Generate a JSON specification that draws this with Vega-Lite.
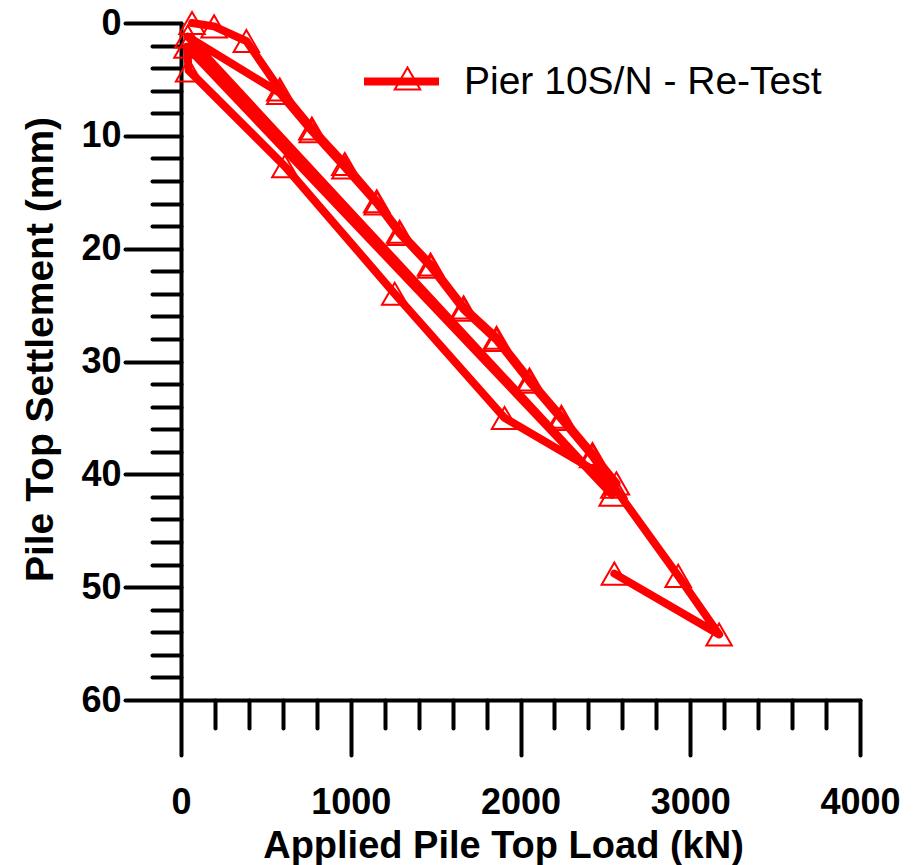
{
  "$schema": "https://vega.github.io/schema/vega-lite/v6.json",
  "width": 679,
  "height": 677,
  "autosize": {"type": "none"},
  "padding": {"left": 181, "top": 23, "right": 58, "bottom": 165},
  "background": "white",
  "config": {
    "view": {"stroke": null},
    "font": "Liberation Sans"
  },
  "data": {
    "values": [
      {"i": 1, "load": 65, "settle": 0.0},
      {"i": 2, "load": 195, "settle": 0.3},
      {"i": 3, "load": 385, "settle": 1.6},
      {"i": 4, "load": 582, "settle": 5.9},
      {"i": 5, "load": 771, "settle": 9.35},
      {"i": 6, "load": 965, "settle": 12.5},
      {"i": 7, "load": 1153, "settle": 15.8},
      {"i": 8, "load": 1288, "settle": 18.5},
      {"i": 9, "load": 1470, "settle": 21.4},
      {"i": 10, "load": 1665, "settle": 25.2},
      {"i": 11, "load": 1859, "settle": 27.9},
      {"i": 12, "load": 2053, "settle": 31.6},
      {"i": 13, "load": 2241, "settle": 34.9},
      {"i": 14, "load": 2424, "settle": 38.2},
      {"i": 15, "load": 2565, "settle": 40.8},
      {"i": 16, "load": 1906, "settle": 35.0},
      {"i": 17, "load": 1259, "settle": 24.0},
      {"i": 18, "load": 612, "settle": 12.7},
      {"i": 19, "load": 45, "settle": 4.2},
      {"i": 20, "load": 35, "settle": 2.1},
      {"i": 21, "load": 2540, "settle": 41.8},
      {"i": 22, "load": 40, "settle": 1.2},
      {"i": 23, "load": 582, "settle": 6.2},
      {"i": 24, "load": 773, "settle": 9.6},
      {"i": 25, "load": 966, "settle": 12.8},
      {"i": 26, "load": 1156, "settle": 16.0},
      {"i": 27, "load": 1291, "settle": 18.7},
      {"i": 28, "load": 1472, "settle": 21.6},
      {"i": 29, "load": 1666, "settle": 25.4},
      {"i": 30, "load": 1860, "settle": 28.1},
      {"i": 31, "load": 2054, "settle": 31.8},
      {"i": 32, "load": 2242, "settle": 35.1},
      {"i": 33, "load": 2425, "settle": 38.4},
      {"i": 34, "load": 2550, "settle": 41.1},
      {"i": 35, "load": 2929, "settle": 49.0},
      {"i": 36, "load": 3170, "settle": 54.2},
      {"i": 37, "load": 2553, "settle": 48.8}
    ]
  },
  "encoding": {
    "x": {
      "field": "load",
      "type": "quantitative",
      "scale": {"domain": [0, 4000], "nice": false, "zero": false},
      "axis": {
        "title": "Applied Pile Top Load (kN)",
        "values": [0, 200, 400, 600, 800, 1000, 1200, 1400, 1600, 1800, 2000, 2200, 2400, 2600, 2800, 3000, 3200, 3400, 3600, 3800, 4000],
        "labelExpr": "datum.value % 1000 === 0 ? datum.label : ''",
        "format": "d",
        "grid": false,
        "domainColor": "black",
        "domainWidth": 4,
        "domainCap": "round",
        "tickColor": "black",
        "tickWidth": 4,
        "tickCap": "round",
        "tickSize": {"condition": {"test": "datum.value % 1000 === 0", "value": 55}, "value": 28},
        "labelFont": "Liberation Sans",
        "labelFontSize": 36,
        "labelFontWeight": "bold",
        "labelColor": "black",
        "labelPadding": 30,
        "labelOverlap": false,
        "labelFlush": false,
        "titleFont": "Liberation Sans",
        "titleFontSize": 38,
        "titleFontWeight": "bold",
        "titleColor": "black",
        "titleX": 322,
        "titleY": 157,
        "titleBaseline": "alphabetic",
        "titleAlign": "center"
      }
    },
    "y": {
      "field": "settle",
      "type": "quantitative",
      "scale": {"domain": [0, 60], "reverse": true, "nice": false, "zero": false},
      "axis": {
        "title": "Pile Top Settlement (mm)",
        "values": [0, 2, 4, 6, 8, 10, 12, 14, 16, 18, 20, 22, 24, 26, 28, 30, 32, 34, 36, 38, 40, 42, 44, 46, 48, 50, 52, 54, 56, 58, 60],
        "labelExpr": "datum.value % 10 === 0 ? datum.label : ''",
        "format": "d",
        "grid": false,
        "domainColor": "black",
        "domainWidth": 4,
        "domainCap": "round",
        "tickColor": "black",
        "tickWidth": 4,
        "tickCap": "round",
        "tickSize": {"condition": {"test": "datum.value % 10 === 0", "value": 56}, "value": 29},
        "labelFont": "Liberation Sans",
        "labelFontSize": 36,
        "labelFontWeight": "bold",
        "labelColor": "black",
        "labelPadding": 4,
        "labelOverlap": false,
        "labelFlush": false,
        "titleFont": "Liberation Sans",
        "titleFontSize": 39,
        "titleFontWeight": "bold",
        "titleColor": "black",
        "titleAngle": -90,
        "titleX": -141,
        "titleY": 326,
        "titleAlign": "center",
        "titleBaseline": "middle"
      }
    }
  },
  "layer": [
    {
      "mark": {"type": "point", "filled": false, "stroke": "#ff0000", "strokeWidth": 2, "size": 650, "opacity": 1},
      "encoding": {
        "shape": {
          "datum": "Pier 10S/N - Re-Test ",
          "scale": {"range": ["triangle-up"]},
          "legend": {
            "orient": "none",
            "legendX": 207,
            "legendY": 36,
            "title": null,
            "padding": 0,
            "symbolStrokeColor": "#ff0000",
            "symbolFillColor": "transparent",
            "symbolStrokeWidth": 2,
            "symbolSize": 650,
            "labelFontSize": 39,
            "labelExpr": "''",
            "labelLimit": 0,
            "labelOffset": 48
          }
        }
      }
    },
    {
      "mark": {"type": "line", "strokeWidth": 8, "strokeCap": "round", "strokeJoin": "round"},
      "encoding": {
        "order": {"field": "i", "type": "quantitative"},
        "color": {
          "datum": "Pier 10S/N - Re-Test",
          "scale": {"range": ["#ff0000"]},
          "legend": {
            "orient": "none",
            "legendX": 179,
            "legendY": 17,
            "title": null,
            "padding": 0,
            "symbolType": "stroke",
            "symbolStrokeWidth": 8,
            "symbolSize": 5625,
            "labelFont": "Liberation Sans",
            "labelFontSize": 39,
            "labelColor": "black",
            "labelLimit": 0,
            "labelOffset": 21
          }
        }
      }
    }
  ]
}
